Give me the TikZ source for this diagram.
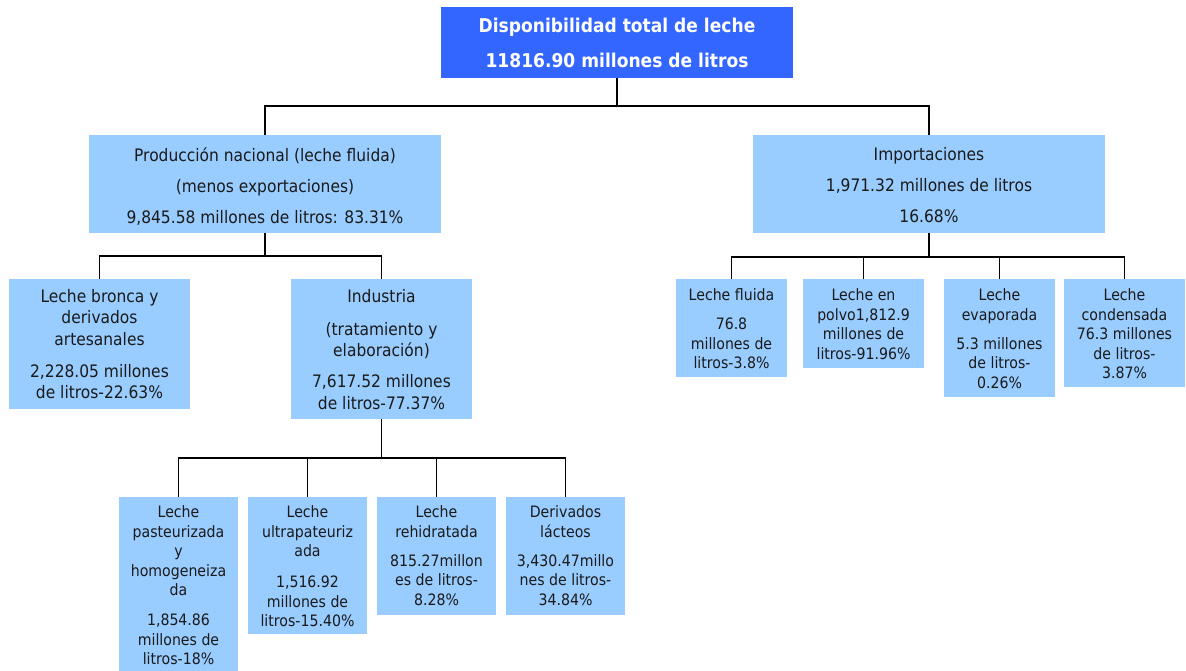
\documentclass[tikz,border=0pt]{standalone}
\usepackage{fontspec}
\setmainfont{DejaVu Sans}[FakeStretch=0.9]
\definecolor{topblue}{HTML}{3366FF}
\definecolor{lblue}{HTML}{99CCFF}
\definecolor{txtc}{HTML}{1A1A1A}
\tikzset{
  topbox/.style={fill=topblue, draw=none, inner sep=0pt, outer sep=0pt, anchor=north west},
  lbox/.style={fill=lblue, draw=none, inner sep=0pt, outer sep=0pt, anchor=north west},
  toptxt/.style={text=white, inner sep=0pt, align=center, anchor=north, font=\fontsize{19}{35}\selectfont\bfseries},
  bigtxt/.style={text=txtc, inner sep=0pt, align=center, anchor=north, font=\fontsize{17.2}{21.5}\selectfont},
  smtxt/.style={text=txtc, inner sep=0pt, align=center, anchor=north, font=\fontsize{15.7}{19.5}\selectfont},
  conn/.style={draw=black, line width=1.7pt}
}
\begin{document}
\begin{tikzpicture}[x=1pt,y=1pt]
\useasboundingbox (0,0) rectangle (1186,-671);
% boxes
\node[topbox, minimum width=352, minimum height=71] (top) at (441,-7) {};
\node[lbox, minimum width=352, minimum height=98] (prod) at (89,-135) {};
\node[lbox, minimum width=352, minimum height=98] (imp) at (753,-135) {};
\node[lbox, minimum width=181, minimum height=130] (bronca) at (9,-279) {};
\node[lbox, minimum width=181, minimum height=140] (ind) at (291,-279) {};
\node[lbox, minimum width=119, minimum height=174] (b1) at (119,-497) {};
\node[lbox, minimum width=119, minimum height=137] (b2) at (248,-497) {};
\node[lbox, minimum width=119, minimum height=118] (b3) at (377,-497) {};
\node[lbox, minimum width=119, minimum height=118] (b4) at (506,-497) {};
\node[lbox, minimum width=111, minimum height=98] (iA) at (676,-279) {};
\node[lbox, minimum width=121, minimum height=89] (iB) at (803,-279) {};
\node[lbox, minimum width=111, minimum height=118] (iC) at (944,-279) {};
\node[lbox, minimum width=121, minimum height=108] (iD) at (1064,-279) {};
% connectors
\coordinate (j1) at (617,-106);
\coordinate (j2) at (265,-256);
\coordinate (j3) at (929,-257);
\coordinate (j4) at (381.5,-458);
\draw[conn] (top.south) -- (j1);
\draw[conn] (j1) -| (prod.north);
\draw[conn] (j1) -| (imp.north);
\draw[conn] (prod.south) -- (j2);
\draw[conn] (j2) -| (bronca.north);
\draw[conn] (j2) -| (ind.north);
\draw[conn] (imp.south) -- (j3);
\draw[conn] (j3) -| (iA.north);
\draw[conn] (j3) -| (iB.north);
\draw[conn] (j3) -| (iC.north);
\draw[conn] (j3) -| (iD.north);
\draw[conn] (ind.south) -- (j4);
\draw[conn] (j4) -| (b1.north);
\draw[conn] (j4) -| (b2.north);
\draw[conn] (j4) -| (b3.north);
\draw[conn] (j4) -| (b4.north);
% texts
\node[toptxt] (topT) at (617,-18.3) {Disponibilidad total de leche\\11816.90 millones de litros};
\node[bigtxt] (prodT) at (265,-147.1) {Producción nacional (leche fluida)\\[9.5pt](menos exportaciones)\\[9.5pt]9,845.58 millones de litros: 83.31\%};
\node[bigtxt] (impT) at (929,-147.1) {Importaciones\\[9.5pt]1,971.32 millones de litros\\[9.5pt]16.68\%};
\node[bigtxt] (broncaT) at (99.5,-289.1) {Leche bronca y\\derivados\\artesanales\\[10.5pt]2,228.05 millones\\de litros-22.63\%};
\node[bigtxt] (indT) at (381.5,-289.1) {Industria\\[11.5pt](tratamiento y\\elaboración)\\[9.5pt]7,617.52 millones\\de litros-77.37\%};
\node[smtxt] (b1T) at (178.5,-505.8) {Leche\\pasteurizada\\y\\homogeneiza\\da\\[10.5pt]1,854.86\\millones de\\litros-18\%};
\node[smtxt] (b2T) at (307.5,-505.8) {Leche\\ultrapateuriz\\ada\\[11.5pt]1,516.92\\millones de\\litros-15.40\%};
\node[smtxt] (b3T) at (436.5,-505.8) {Leche\\rehidratada\\[9.5pt]815.27millon\\es de litros-\\8.28\%};
\node[smtxt] (b4T) at (565.5,-505.8) {Derivados\\lácteos\\[9.5pt]3,430.47millo\\nes de litros-\\34.84\%};
\node[smtxt] (iAT) at (731.5,-288.8) {Leche fluida\\[9.5pt]76.8\\millones de\\litros-3.8\%};
\node[smtxt] (iBT) at (863.5,-288.8) {Leche en\\polvo1,812.9\\millones de\\litros-91.96\%};
\node[smtxt] (iCT) at (999.5,-288.8) {Leche\\evaporada\\[9.5pt]5.3 millones\\de litros-\\0.26\%};
\node[smtxt] (iDT) at (1124.5,-288.8) {Leche\\condensada\\76.3 millones\\de litros-\\3.87\%};
\end{tikzpicture}
\end{document}
